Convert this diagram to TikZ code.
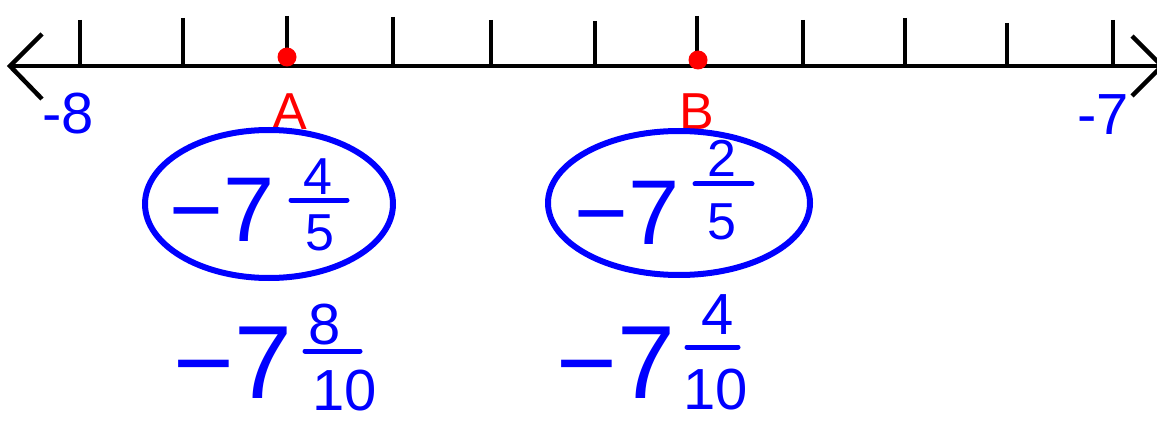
\documentclass[tikz,border=0pt]{standalone}
\usepackage{fontspec}
\setmainfont{Liberation Sans}

\begin{document}
\begin{tikzpicture}[x=1pt,y=-1pt,
	axis/.style={line width=4.5pt, black},
	ink/.style={line width=6pt, blue},
	bar/.style={line width=5pt, blue, line cap=round},
	endlbl/.style={text=blue, font=\fontsize{58}{58}\selectfont, inner sep=0pt},
	ptlbl/.style={text=red, font=\fontsize{52}{52}\selectfont, inner sep=0pt},
	whole/.style={text=blue, font=\fontsize{92}{92}\selectfont, inner sep=0pt},
	bigwhole/.style={text=blue, font=\fontsize{104}{104}\selectfont, inner sep=0pt},
	digit/.style={text=blue, font=\fontsize{52}{52}\selectfont, inner sep=0pt},
	bigdigit/.style={text=blue, font=\fontsize{58}{58}\selectfont, inner sep=0pt}]
	\useasboundingbox (0,0) rectangle (1157,425);
	\coordinate (left) at (10,66); \coordinate (right) at (1162,66);
	\coordinate (la) at (42,34); \coordinate (lb) at (42,99);
	\coordinate (ra) at (1132,36); \coordinate (rb) at (1132,96);
	\draw[axis] (left)--(right);
	\draw[axis] (la)--(left)--(lb);
	\draw[axis] (ra)--(right)--(rb);
	% ticks, -8 to -7 in tenths
	\foreach \x/\t in {80/20,183/18,287/16,393/17,491/20,595/21,697/16,803/20,905/18,1007/23,1113/20}
		\draw[axis] (\x,\t)--(\x,66);
	\coordinate (A) at (287,57); \coordinate (B) at (698,60);
	\fill[red] (A) circle (9.5); \fill[red] (B) circle (9.5);
	\node[endlbl] (m8) at (68,114) {-8};
	\node[endlbl] (m7) at (1103,115) {-7};
	\node[ptlbl] (Alab) at (290,112) {A};
	\node[ptlbl] (Blab) at (697,112) {B};
	% circled answers
	\draw[ink] (269,204) ellipse [x radius=124, y radius=74];
	\draw[ink] (679,203) ellipse [x radius=131, y radius=72];
	\node[whole] (fa7) at (222,210) {−7};
	\node[digit] (fan) at (318,177) {4};
	\node[digit] (fad) at (320,233) {5};
	\draw[bar] (291,200) -- (347,200);
	\node[whole] (fb7) at (627,213) {−7};
	\node[digit] (fbn) at (722,158) {2};
	\node[digit] (fbd) at (722,222) {5};
	\draw[bar] (695,184) -- (752,184);
	% same values in tenths
	\node[bigwhole] (ta7) at (233,363) {−7};
	\node[bigdigit] (tan) at (325,325) {8};
	\node[bigdigit] (tad) at (345,391) {10};
	\draw[bar] (305,351) -- (360,351);
	\node[bigwhole] (tb7) at (616,363) {−7};
	\node[bigdigit] (tbn) at (718,315) {4};
	\node[bigdigit] (tbd) at (716,390) {10};
	\draw[bar] (687,347) -- (738,347);
\end{tikzpicture}
\end{document}
